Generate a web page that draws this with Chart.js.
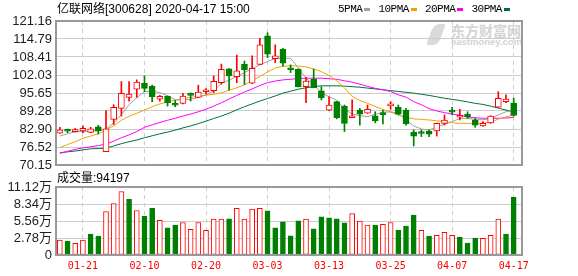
<!DOCTYPE html>
<html lang="zh-CN">
<head>
<meta charset="UTF-8" />
<title>亿联网络 K线</title>
<script src="https://cdn.jsdelivr.net/npm/chart.js@4"></script>
<style>
  body { margin: 0; width: 578px; height: 276px; background: #fff; position: relative; overflow: hidden;
         font-family: Arial, "Noto Sans CJK SC", sans-serif; }
  canvas { position: absolute; left: 0; }
  #kline { top: 0; }
  #vol { top: 170px; }
  .title { position: absolute; left: 57px; top: 2px; font-size: 12px; line-height: 14px; color: #000; white-space: nowrap; }
  .volTitle { position: absolute; left: 57px; top: 171px; font-size: 12px; line-height: 14px; color: #000; }
  #legend { position: absolute; left: 338px; top: 3px; display: flex; align-items: center;
            font: 11px "Liberation Mono", monospace; letter-spacing: -0.5px; color: #000; }
  #legend i { display: inline-block; width: 6px; height: 3px; margin: 0 8px 0 2px; }
  .wm { position: absolute; color: #d4d4d4; font-weight: bold; white-space: nowrap; }
  .logo { position: absolute; left: 430px; top: 24px; width: 12px; height: 21px; background: #dadada;
          border-radius: 6px 2px 6px 2px; transform: skewX(-20deg); }
</style>
</head>
<body>
<div class="logo"></div>
<div class="wm" style="left:451px; top:23px; font-size:14px; line-height:14px; font-family:'Noto Sans CJK SC';">东方财富网</div>
<div class="wm" style="left:451px; top:37px; font-size:9.5px; line-height:10px;">eastmoney.com</div>

<canvas id="kline" width="578" height="170"></canvas>
<canvas id="vol" width="578" height="106"></canvas>

<div class="title">亿联网络[300628] 2020-04-17 15:00</div>
<div id="legend">
  <span>5PMA</span><i style="background:#a0a0a0"></i>
  <span>10PMA</span><i style="background:#f5a100"></i>
  <span>20PMA</span><i style="background:#ff00ff"></i>
  <span>30PMA</span><i style="background:#00703a"></i>
</div>
<div class="volTitle">成交量:94197</div>

<script>
// data
const dates = [
  "01-16","01-17","01-20","01-21","01-22","01-23",
  "02-03","02-04","02-05","02-06","02-07","02-10","02-11","02-12","02-13","02-14",
  "02-17","02-18","02-19","02-20","02-21","02-24","02-25","02-26","02-27","02-28",
  "03-02","03-03","03-04","03-05","03-06","03-09","03-10","03-11","03-12","03-13",
  "03-16","03-17","03-18","03-19","03-20","03-23","03-24","03-25","03-26","03-27",
  "03-30","03-31","04-01","04-02","04-03","04-07","04-08","04-09","04-10",
  "04-13","04-14","04-15","04-16","04-17"
];
const open = [
  81.4, 82.55, 82.0, 82.2, 81.7, 83.7, 74.9, 86.3, 90.2, 94.1,
  97.0, 99.1, 98.1, 93.5, 94.5, 91.5, 92.0, 95.5, 94.1, 96.1,
  96.5, 99.3, 104.2, 101.4, 105.8, 99.1, 105.8, 115.9, 107.8, 111.1,
  104.2, 104.1, 97.9, 100.5, 96.4, 89.6, 92.6, 91.0, 86.9, 89.6,
  88.5, 87.6, 88.2, 91.05, 90.6, 89.6, 81.8, 81.5, 82.2, 82.2,
  84.9, 89.1, 87.05, 88.2, 86.1, 84.0, 85.1, 90.6, 92.6, 92.1
];
const high = [
  83.5, 82.9, 83.1, 84.0, 83.5, 84.2, 89.4, 91.5, 99.7, 99.7,
  100.3, 101.7, 98.5, 94.8, 94.6, 93.0, 95.5, 95.7, 98.4, 97.2,
  101.7, 105.9, 104.3, 109.1, 107.0, 108.8, 115.0, 117.0, 112.7, 111.5,
  105.6, 104.2, 101.2, 104.1, 97.9, 94.3, 92.7, 91.4, 93.2, 90.2,
  91.4, 89.0, 89.6, 92.6, 91.4, 90.2, 82.6, 82.6, 82.6, 85.0,
  87.9, 90.6, 89.9, 89.0, 86.7, 85.5, 87.6, 96.1, 95.0, 93.9
];
const low = [
  81.3, 81.6, 81.85, 81.6, 81.6, 81.1, 74.9, 84.5, 87.5, 92.8,
  94.1, 96.1, 92.6, 92.8, 91.0, 90.8, 91.8, 92.8, 94.0, 95.3,
  95.8, 98.8, 96.7, 99.3, 98.7, 99.0, 105.7, 108.2, 106.4, 105.2,
  102.9, 97.8, 92.2, 97.5, 93.2, 89.4, 86.5, 82.0, 86.9, 84.3,
  88.4, 85.1, 84.7, 89.9, 87.9, 84.3, 76.9, 80.2, 80.2, 80.4,
  84.3, 87.9, 86.1, 86.7, 83.5, 83.8, 84.9, 90.5, 92.2, 87.4
];
const close = [
  82.6, 82.1, 82.6, 83.1, 83.0, 82.3, 83.0, 90.6, 95.5, 95.3,
  99.5, 97.3, 94.3, 94.5, 92.2, 91.3, 94.6, 94.8, 96.0, 96.4,
  99.8, 104.0, 101.7, 103.5, 103.8, 104.4, 112.7, 109.4, 108.8, 106.2,
  103.9, 97.9, 99.9, 97.5, 94.0, 91.4, 86.9, 84.9, 87.1, 88.2,
  89.9, 85.8, 88.0, 91.8, 88.2, 84.7, 80.4, 81.3, 81.1, 84.9,
  86.1, 88.9, 87.75, 87.3, 84.3, 84.9, 87.5, 93.8, 93.5, 87.7
];
const ma5 = [
  80.4, 81.2, 81.9, 82.0, 82.1, 82.2, 82.9, 85.0, 88.0, 91.5,
  94.0, 96.1, 96.3, 95.8, 94.7, 93.3, 93.1, 93.4, 94.0, 95.0,
  96.5, 99.1, 100.2, 101.5, 102.9, 104.3, 105.6, 106.8, 107.9, 108.0,
  107.9, 104.6, 100.9, 98.6, 95.7, 94.3, 93.1, 90.0, 88.2, 87.6,
  87.3, 88.1, 88.8, 89.0, 88.4, 86.1, 84.0, 82.9, 82.5, 83.6,
  84.6, 85.5, 86.6, 86.7, 86.2, 86.2, 86.6, 87.9, 89.0, 89.6
];
const ma10 = [
  76.3, 77.4, 78.4, 79.6, 80.4, 81.2, 82.6, 84.0, 86.0, 87.4,
  88.5, 89.6, 90.8, 91.8, 92.5, 93.2, 93.6, 94.1, 94.5, 94.9,
  95.2, 95.7, 96.6, 97.5, 98.5, 100.0, 101.5, 103.1, 104.5, 105.1,
  105.3, 105.2, 104.9, 104.2, 103.2, 101.9, 100.0, 97.5, 94.5, 93.0,
  92.0, 90.9, 89.8, 88.9, 87.9, 87.0, 86.5, 86.3, 86.1, 85.8,
  85.5, 85.1, 84.9, 84.9, 84.9, 85.0, 85.3, 86.4, 87.2, 87.9
];
const ma20 = [
  74.3, 75.0, 75.7, 76.2, 76.6, 77.0, 77.6, 78.6, 79.8, 80.8,
  82.0, 83.5, 84.4, 85.2, 86.0, 86.7, 87.5, 88.2, 89.0, 89.9,
  91.0, 92.2, 93.5, 94.8, 96.0, 97.1, 98.3, 99.3, 99.9, 100.3,
  100.5, 100.8, 100.9, 100.9, 100.9, 100.7, 100.5, 100.0, 99.5, 98.8,
  98.0, 97.3, 96.8, 96.2, 95.0, 94.2, 92.6, 91.5, 90.1, 89.3,
  88.7, 88.2, 87.8, 87.1, 86.9, 86.7, 86.7, 86.7, 86.8, 87.0
];
const ma30 = [
  74.5, 74.8, 75.1, 75.5, 75.9, 76.0, 76.1, 76.9, 77.7, 78.4,
  79.0, 79.8, 80.5, 81.2, 81.8, 82.5, 83.3, 84.0, 84.8, 85.7,
  86.6, 87.5, 88.5, 89.7, 90.8, 91.8, 92.8, 93.7, 94.6, 95.6,
  96.3, 97.0, 97.5, 97.9, 98.2, 98.2, 98.2, 98.1, 97.9, 97.7,
  97.4, 97.1, 96.8, 96.5, 96.2, 95.9, 95.6, 95.2, 94.8, 94.3,
  93.8, 93.4, 93.0, 92.5, 92.0, 91.6, 91.0, 90.3, 89.6, 89.0
];
// volume in 万 shares
const volume = [
  2.44, 2.28, 1.90, 2.44, 3.42, 3.09, 7.11, 8.41, 10.37, 9.12,
  7.27, 6.35, 7.65, 5.65, 4.45, 4.88, 5.32, 4.18, 5.32, 4.02,
  5.86, 5.86, 5.91, 7.65, 5.86, 7.49, 7.65, 7.21, 4.45, 5.43,
  3.15, 5.59, 5.86, 4.29, 6.24, 6.08, 5.91, 5.26, 6.78, 5.54,
  4.88, 4.88, 5.00, 5.32, 4.07, 4.72, 6.51, 4.02, 3.09, 3.20,
  3.69, 3.20, 2.93, 1.95, 2.77, 2.71, 3.20, 5.86, 3.42, 9.42
];
// 1 = up day (red hollow), 0 = down day (green)
const volUp = [
  1,0,1,1,0,0,1,1,1,0, 1,0,0,1,0,0,1,1,1,1,
  1,1,0,1,1,1,1,0,0,0, 0,0,1,0,0,0,0,0,1,1,
  1,0,1,1,0,0,0,1,0,1, 1,1,0,0,0,1,1,1,0,0
];
const priceTicks = [70.15, 76.52, 82.90, 89.28, 95.65, 102.03, 108.41, 114.79, 121.16];
const volTicks = [0, 2.78, 5.56, 8.34, 11.12];
const dateTicks = ["01-21", "02-10", "02-20", "03-03", "03-13", "03-25", "04-07", "04-17"];

const RED = "#ff0000";
const GREEN = "#008000";
const GRID = "#cccccc";
const dateIdx = dateTicks.map(d => dates.indexOf(d));
const isUp = open.map((o, i) => close[i] >= o);

const framePlugin = {
  id: "frame",
  afterDraw(chart) {
    const { ctx, chartArea: a } = chart;
    ctx.save();
    ctx.strokeStyle = "#999";
    ctx.lineWidth = 2;
    ctx.strokeRect(a.left, a.top, a.right - a.left, a.bottom - a.top);
    ctx.restore();
  }
};

function xScale(showLabels) {
  return {
    type: "linear",
    min: -0.5,
    max: 60.08,
    offset: false,
    afterBuildTicks: s => { s.ticks = dateIdx.map(v => ({ value: v })); },
    afterFit: s => { s.height = showLabels ? 21 : 0; },
    grid: { color: GRID, lineWidth: 1, drawTicks: false, offset: false },
    border: { display: false, dash: [4, 4] },
    ticks: {
      display: showLabels,
      autoSkip: false,
      maxRotation: 0,
      padding: 5,
      color: RED,
      font: { family: "'DejaVu Sans Mono', monospace", size: 10 },
      callback: v => dates[v]
    }
  };
}

function yScale(min, max, ticks, fmt) {
  return {
    min: min,
    max: max,
    afterBuildTicks: s => { s.ticks = ticks.map(v => ({ value: v })); },
    afterFit: s => { s.width = 56; s.paddingTop = 0; s.paddingBottom = 0; },
    grid: { color: GRID, lineWidth: 1, drawTicks: false },
    border: { display: false },
    ticks: {
      autoSkip: false,
      padding: 4,
      color: "#1e1e1e",
      font: { family: "Arial, 'Noto Sans CJK SC'", size: 13 },
      callback: fmt
    }
  };
}

const maLine = (label, values, color) => ({
  type: "line",
  label: label,
  data: values.map((v, i) => ({ x: i, y: v })),
  borderColor: color,
  borderWidth: 1,
  pointRadius: 0,
  tension: 0,
  order: 3
});

new Chart(document.getElementById("kline"), {
  type: "bar",
  data: {
    datasets: [
      {
        label: "body",
        data: open.map((o, i) => ({ x: i, y: [o, close[i]] })),
        backgroundColor: isUp.map(u => (u ? "#ffffff" : GREEN)),
        borderColor: isUp.map(u => (u ? RED : GREEN)),
        borderWidth: 1,
        borderSkipped: false,
        barThickness: 6,
        minBarLength: 2,
        grouped: false,
        order: 1
      },
      {
        label: "wick",
        data: low.map((l, i) => ({ x: i, y: [l, high[i]] })),
        backgroundColor: isUp.map(u => (u ? RED : GREEN)),
        borderWidth: 0,
        barThickness: 1,
        grouped: false,
        order: 2
      },
      maLine("5PMA", ma5, "#a0a0a0"),
      maLine("10PMA", ma10, "#f5a100"),
      maLine("20PMA", ma20, "#ff00ff"),
      maLine("30PMA", ma30, "#00703a")
    ]
  },
  options: {
    responsive: false,
    animation: false,
    layout: { padding: { top: 21, right: 56, bottom: 5, left: 0 } },
    scales: {
      x: xScale(false),
      y: yScale(70.15, 121.16, priceTicks, v => v.toFixed(2))
    },
    plugins: { legend: { display: false }, tooltip: { enabled: false } }
  },
  plugins: [framePlugin]
});

new Chart(document.getElementById("vol"), {
  type: "bar",
  data: {
    datasets: [
      {
        label: "成交量",
        data: volume.map((v, i) => ({ x: i, y: v })),
        backgroundColor: volUp.map(u => (u ? "#ffffff" : GREEN)),
        borderColor: volUp.map(u => (u ? RED : GREEN)),
        borderWidth: 1,
        borderSkipped: false,
        barThickness: 5,
        grouped: false
      }
    ]
  },
  options: {
    responsive: false,
    animation: false,
    layout: { padding: { top: 17, right: 56, bottom: 0, left: 0 } },
    scales: {
      x: xScale(true),
      y: yScale(0, 11.12, volTicks, v => (v === 0 ? "0" : v.toFixed(2) + "万"))
    },
    plugins: { legend: { display: false }, tooltip: { enabled: false } }
  },
  plugins: [framePlugin]
});
</script>
</body>
</html>
